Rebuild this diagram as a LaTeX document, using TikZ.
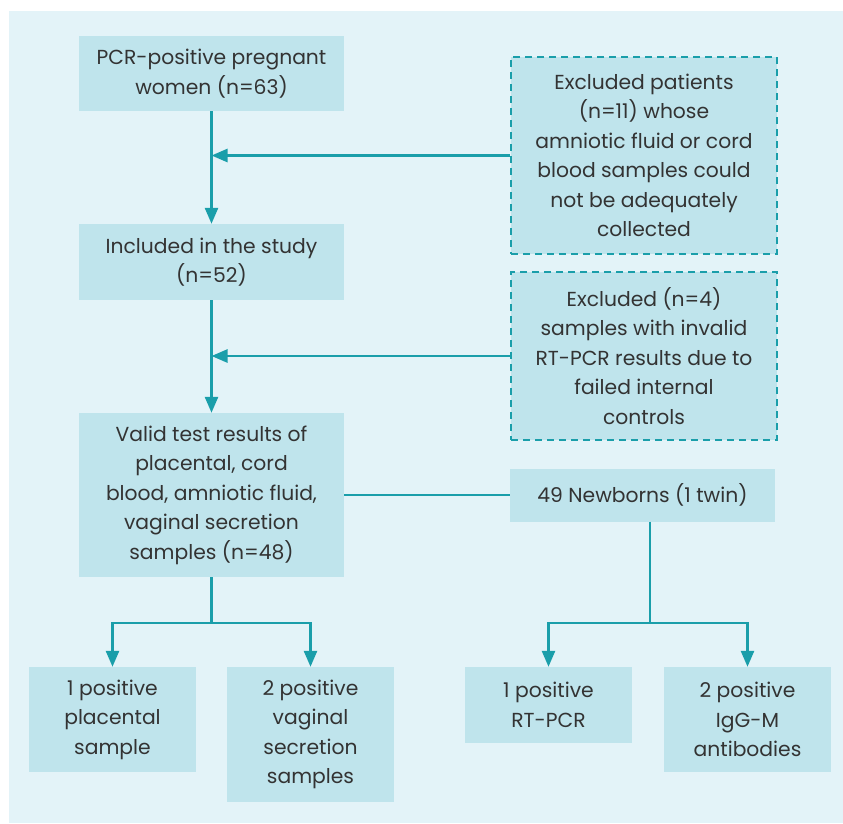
\documentclass[tikz,border=0pt]{standalone}
\usepackage{fontspec}
\setmainfont{Poppins}
\usetikzlibrary{arrows.meta,calc}
\definecolor{panel}{HTML}{E3F3F8}
\definecolor{boxfill}{HTML}{BFE4EC}
\definecolor{teal}{HTML}{1A9EAA}
\definecolor{txt}{HTML}{333333}
\begin{document}
\begin{tikzpicture}[x=1pt,y=-1pt,
  box/.style={fill=boxfill, draw=none, inner sep=0pt, align=center, text=txt,
    font=\fontsize{20.3}{29.5}\selectfont},
  dbox/.style={box, draw=teal, line width=2.2pt, dash pattern=on 7pt off 5pt},
  conn/.style={draw=teal, line width=2.6pt},
  arr/.style={conn, -{Triangle[length=16pt,width=13pt]}}]
\useasboundingbox (0,0) rectangle (843,823);
\fill[white] (0,0) rectangle (843,823);
\fill[panel] (9,11) rectangle (843,823);

\node[box, minimum width=265pt, minimum height=75pt] (b1) at (211.5,73.5) {PCR-positive pregnant\\women (n=63)};
\node[dbox, minimum width=266pt, minimum height=197pt] (d1) at (644,155.5) {Excluded patients\\(n=11) whose\\amniotic fluid or cord\\blood samples could\\not be adequately\\collected};
\node[box, minimum width=265pt, minimum height=76pt] (b2) at (211.5,262) {Included in the study\\(n=52)};
\node[dbox, minimum width=266pt, minimum height=168pt] (d2) at (644,356) {Excluded (n=4)\\samples with invalid\\RT-PCR results due to\\failed internal\\controls};
\node[box, minimum width=265pt, minimum height=164pt] (b3) at (211.5,495) {Valid test results of\\placental, cord\\blood, amniotic fluid,\\vaginal secretion\\samples (n=48)};
\node[box, minimum width=265pt, minimum height=53pt] (b4) at (642.5,495) {49 Newborns (1 twin)};
\node[box, minimum width=167pt, minimum height=105pt] (c1) at (112.5,719.5) {1 positive\\placental\\sample};
\node[box, minimum width=167pt, minimum height=135pt] (c2) at (310.5,734.5) {2 positive\\vaginal\\secretion\\samples};
\node[box, minimum width=167pt, minimum height=76pt] (c3) at (548.5,705) {1 positive\\RT-PCR};
\node[box, minimum width=167pt, minimum height=105pt] (c4) at (747.5,719.5) {2 positive\\IgG-M\\antibodies};

\draw[arr] (b1.south) -- (b2.north);
\draw[arr] (d1.west) -- (d1.west -| b1.south);
\draw[arr] (b2.south) -- (b3.north);
\draw[arr] (d2.west) -- (d2.west -| b2.south);
\draw[conn] (b3.east) -- (b4.west);

\coordinate (j1) at (211.5,623);
\draw[conn] (b3.south) -- (j1);
\draw[arr] (j1) -| (c1.north);
\draw[arr] (j1) -| (c2.north);

\coordinate (j2) at (650,623);
\draw[conn] (j2 |- b4.south) -- (j2);
\draw[arr] (j2) -| (c3.north);
\draw[arr] (j2) -| (c4.north);
\end{tikzpicture}
\end{document}
